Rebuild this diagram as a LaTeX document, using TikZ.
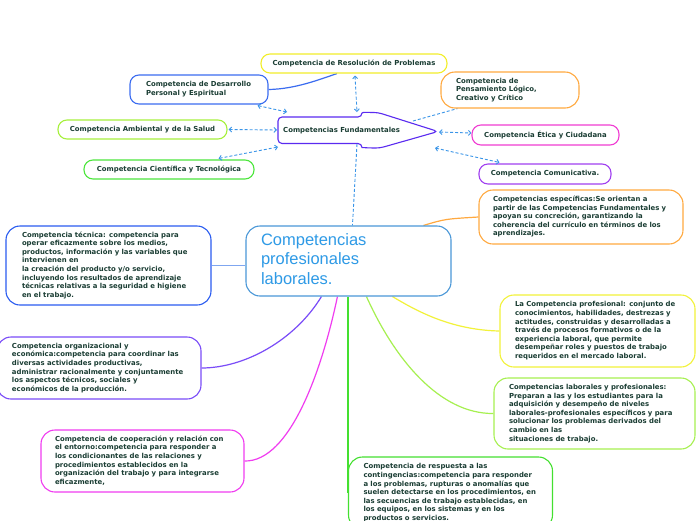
\documentclass[tikz,border=0pt]{standalone}
\usepackage{fontspec}
\setmainfont{DejaVu Sans}
\newfontfamily\titlefont{Liberation Sans}
\usetikzlibrary{arrows.meta,calc,backgrounds}
\definecolor{txt}{HTML}{1A3D33}
\definecolor{cRes}{HTML}{F2EE2A}
\definecolor{cDes}{HTML}{3B6CF0}
\definecolor{cPen}{HTML}{FFA940}
\definecolor{cAmb}{HTML}{A6F03C}
\definecolor{cFund}{HTML}{5A2BF0}
\definecolor{cCie}{HTML}{4CE63C}
\definecolor{cEti}{HTML}{F03CD2}
\definecolor{cCom}{HTML}{A040F0}
\definecolor{cEsp}{HTML}{FFA940}
\definecolor{cMain}{HTML}{4A98D8}
\definecolor{cTitle}{HTML}{2E9AE6}
\definecolor{cTec}{HTML}{2A5CF0}
\definecolor{cTecL}{HTML}{7FA6F0}
\definecolor{cProf}{HTML}{F2F23A}
\definecolor{cLab}{HTML}{A6F050}
\definecolor{cOrg}{HTML}{7A4CF8}
\definecolor{cCoo}{HTML}{F03CF0}
\definecolor{cResp}{HTML}{44E030}
\definecolor{cDash}{HTML}{3A95E8}
\newcommand\tlines[1]{\noindent\begin{tabular}{@{}l@{}}#1\end{tabular}}
\begin{document}
\begin{tikzpicture}[x=1pt,y=-1pt,
  boxtext/.style={font=\bfseries\fontsize{6.9}{8.6}\selectfont, text=txt},
  box/.style={draw=#1, fill=white, line width=1.1pt, inner sep=0pt, boxtext},
  geo/.style n args={3}{minimum width=#1, minimum height=#2, text width=#3, align=left},
  pill/.style={rounded corners=9pt},
  card/.style={rounded corners=14pt},
  con/.style={draw=#1, line width=1.2pt},
  dcon/.style={draw=cDash, line width=0.9pt, dash pattern=on 3pt off 2pt},
  dconA/.style={dcon, {Straight Barb[length=2.5pt,width=5pt]}-{Straight Barb[length=2.5pt,width=5pt]}}
]
\useasboundingbox (0,0) rectangle (696,520);

% --- top cluster ---
\node[box=cRes, pill, minimum width=186pt, minimum height=19pt] (res) at (354,63.5) {Competencia de Resolución de Problemas};
\node[box=cDes, pill, geo={138pt}{29pt}{106pt}] (des) at (199,89.5) {\tlines{Competencia de Desarrollo\\Personal y Espiritual}};
\node[box=cPen, card, geo={138pt}{36pt}{108pt}] (pen) at (510,90) {\tlines{Competencia de\\Pensamiento Lógico,\\Creativo y Crítico}};
\node[box=cAmb, pill, minimum width=169pt, minimum height=19pt] (amb) at (142.5,129.5) {Competencia Ambiental y de la Salud};
\node[box=cCie, pill, minimum width=170pt, minimum height=19pt] (cie) at (169,169.5) {Competencia Científica y Tecnológica};
\node[box=cEti, pill, minimum width=147pt, minimum height=20pt] (eti) at (545.5,135) {Competencia Ética y Ciudadana};
\node[box=cCom, pill, minimum width=132pt, minimum height=20pt] (com) at (545,174) {Competencia Comunicativa.};

% Competencias Fundamentales arrow shape
\draw[draw=cFund, fill=white, line width=1.1pt, rounded corners=4pt]
  (362,117) .. controls (362,112) and (368,112.5) .. (378,112.5) -- (438,131.5) -- (380,148)
  .. controls (368,148) and (362,147.5) .. (362,143.5) -- (278,143.5) -- (278,117) -- cycle;
\node[boxtext, anchor=west, inner sep=0pt] (fund) at (283,131) {Competencias Fundamentales};
\coordinate (fT) at (357,112);
\coordinate (fTL) at (287,112);
\coordinate (fL) at (277,130);
\coordinate (fBL) at (278,147);
\coordinate (fTR) at (413,121);
\coordinate (fTip) at (439,132);
\coordinate (fBR) at (435,148);
\coordinate (fB) at (357,144);

% --- main and sub nodes ---
\node[box=cMain, card, geo={205pt}{70pt}{175pt}, font=\titlefont\fontsize{16.5}{19.5}\selectfont, text=cTitle] (main) at (348.5,261) {\tlines{Competencias\\profesionales\\laborales.}};
\node[box=cEsp, card, geo={204pt}{54pt}{176pt}] (esp) at (581,217) {\tlines{Competencias específicas:Se orientan a\\partir de las Competencias Fundamentales y\\apoyan su concreción, garantizando la\\coherencia del currículo en términos de los\\aprendizajes.}};
\node[box=cTec, card, geo={205pt}{79pt}{173pt}] (tec) at (108.5,265.5) {\tlines{Competencia técnica: competencia para\\operar eficazmente sobre los medios,\\productos, información y las variables que\\intervienen en\\la creación del producto y/o servicio,\\incluyendo los resultados de aprendizaje\\técnicas relativas a la seguridad e higiene\\en el trabajo.}};
\node[box=cProf, card, geo={195pt}{72pt}{165pt}] (prof) at (597.5,331) {\tlines{La Competencia profesional: conjunto de\\conocimientos, habilidades, destrezas y\\actitudes, construidas y desarrolladas a\\través de procesos formativos o de la\\experiencia laboral, que permite\\desempeñar roles y puestos de trabajo\\requeridos en el mercado laboral.}};
\node[box=cLab, card, geo={201pt}{71pt}{171pt}] (lab) at (594.5,413.5) {\tlines{Competencias laborales y profesionales:\\Preparan a las y los estudiantes para la\\adquisición y desempeño de niveles\\laborales-profesionales específicos y para\\solucionar los problemas derivados del\\cambio en las\\situaciones de trabajo.}};
\node[box=cOrg, card, geo={204pt}{62pt}{174pt}] (org) at (99,368) {\tlines{Competencia organizacional y\\económica:competencia para coordinar las\\diversas actividades productivas,\\administrar racionalmente y conjuntamente\\los aspectos técnicos, sociales y\\económicos de la producción.}};
\node[box=cCoo, card, geo={203pt}{62pt}{175pt}] (coo) at (142.5,461) {\tlines{Competencia de cooperación y relación con\\el entorno:competencia para responder a\\los condicionantes de las relaciones y\\procedimientos establecidos en la\\organización del trabajo y para integrarse\\eficazmente,}};
\node[box=cResp, card, geo={204pt}{72pt}{174pt}] (resp) at (450.5,493) {\tlines{Competencia de respuesta a las\\contingencias:competencia para responder\\a los problemas, rupturas o anomalías que\\suelen detectarse en los procedimientos, en\\las secuencias de trabajo establecidas, en\\los equipos, en los sistemas y en los\\productos o servicios.}};

\begin{pgfonlayer}{background}
\fill[white] (0,0) rectangle (696,520);
% solid connectors
\draw[con=cTecL] (tec.east) -- (tec.east -| main.west);
\draw[con=cEsp] ($(main.north west)+(178,0)$) .. controls (445,219) .. (esp.west);
\draw[con=cProf] ($(main.south west)+(147,0)$) .. controls (415,310) and (450,330) .. (prof.west);
\draw[con=cLab] ($(main.south west)+(121,0)$) .. controls (395,360) and (440,414) .. (lab.west);
\draw[con=cResp] ($(main.south west)+(102.5,0)$) -- (resp.west);
\draw[con=cOrg] ($(main.south west)+(76,0)$) .. controls (295,340) and (245,368) .. (org.east);
\draw[con=cCoo] ($(main.south west)+(92,0)$) .. controls (322,370) and (290,462) .. (coo.east);
\draw[con=cDes] (des.east) .. controls (295,89) and (318,80) .. ($(res.south)+(-17,0)$);
% dashed connectors
\draw[dcon] (fB) -- ($(main.north west)+(107,0)$);
\draw[dcon] (fTR) -- ($(pen.south west)+(17,0)$);
\end{pgfonlayer}
\draw[dconA] ($(res.south)+(1,2)$) -- (fT);
\draw[dconA] ($(des.south east)+(-11,1)$) -- (fTL);
\draw[dconA] ($(amb.east)+(1,0)$) -- (fL);
\draw[dconA] ($(cie.north east)+(-36,-1)$) -- (fBL);
\draw[dconA] (fTip) -- ($(eti.west)+(0,-2)$);
\draw[dconA] (fBR) -- ($(com.north west)+(21,-1)$);
\end{tikzpicture}
\end{document}
